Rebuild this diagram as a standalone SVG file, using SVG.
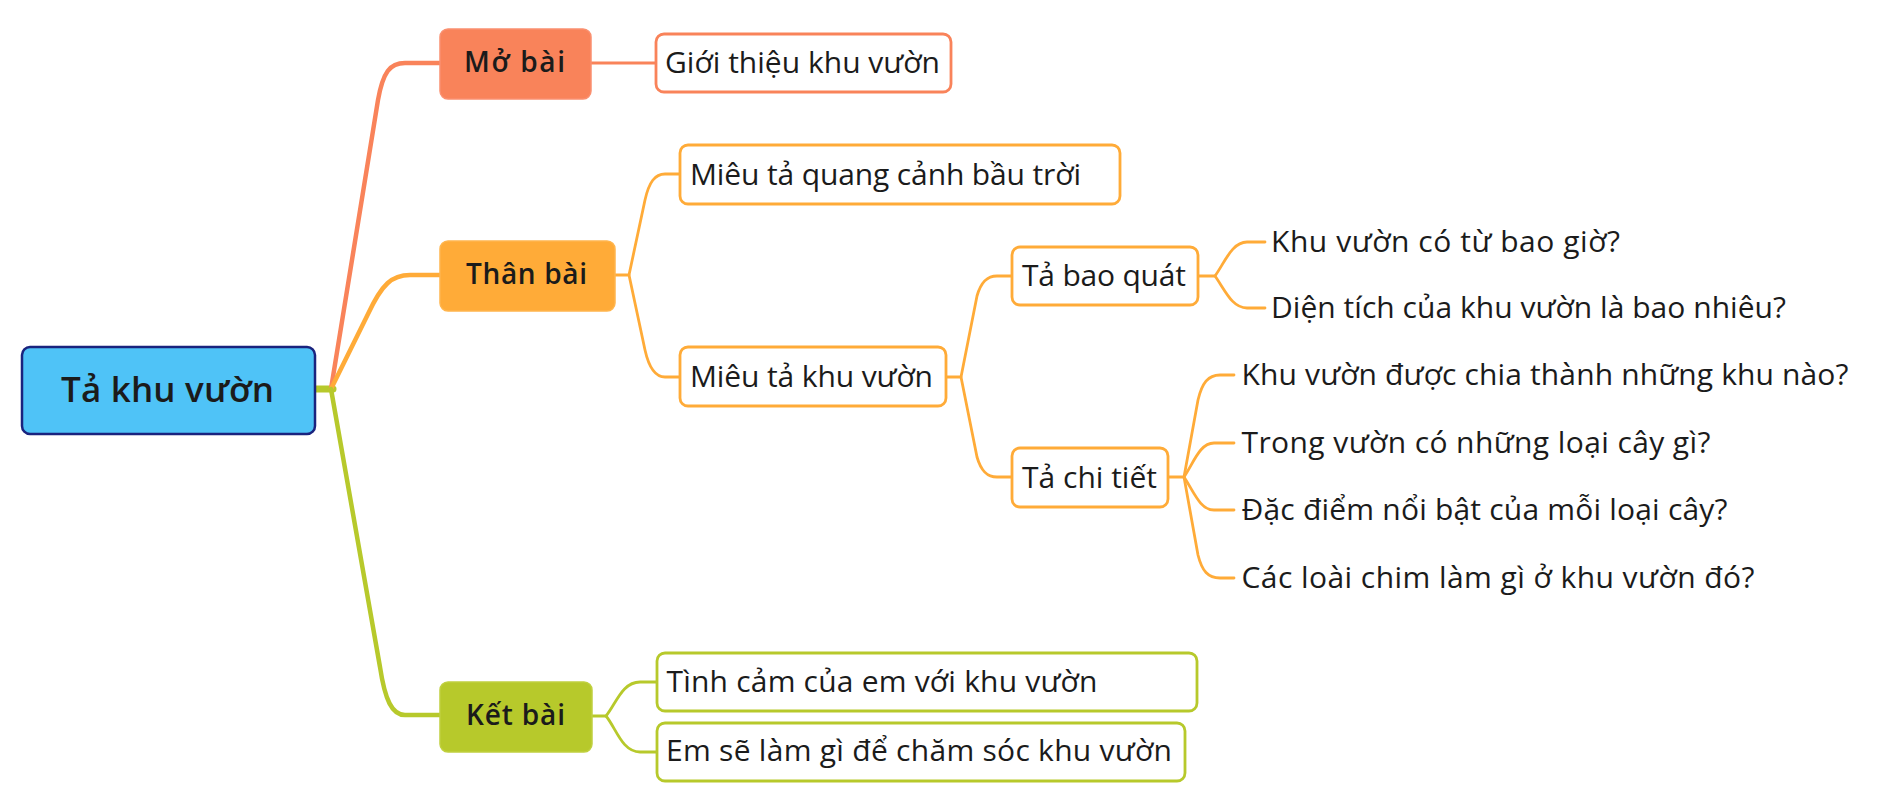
<svg xmlns="http://www.w3.org/2000/svg" width="1879" height="812" viewBox="0 0 1879 812">
<style>
.bg{fill:#ffffff}
.t{font-family:"Open Sans","Noto Sans","Liberation Sans",sans-serif;fill:#1b1b1b}
.reg{font-size:30px;font-weight:400}
.main{font-size:28px;font-weight:600}
.root{font-size:35px;font-weight:600}
.c{fill:none;stroke-linecap:round;stroke-linejoin:round}
.o1{stroke:#F9835A}
.o2{stroke:#FFAB38}
.g{stroke:#B7C92B}
.thick{stroke-width:4.5}
.thin{stroke-width:2.8}
.box{fill:#ffffff;stroke-width:2.8}
</style>
<rect class="bg" x="0" y="0" width="1879" height="812"/>
<g id="connectors">
  <path class="c g" stroke-width="7" d="M315,389 H333"/>
  <path class="c o1 thick" d="M331,389 L378,100 C383,72 390,63 405,63 H440"/>
  <path class="c o2 thick" d="M331,389 L368,314 C382,284 392,275 410,275 H440"/>
  <path class="c g thick" d="M331,389 L380,667 C385,700 392,715 405,715 H440"/>
  <path class="c o1 thin" d="M591,63 H656"/>
  <path class="c o2 thin" d="M615,275 H629 L645,200 C649,182 655,174 665,174 H680"/>
  <path class="c o2 thin" d="M629,275 L645,350 C649,368 655,377 665,377 H680"/>
  <path class="c o2 thin" d="M946,377 H961 L977,296 C981,282 987,276 997,276 H1012"/>
  <path class="c o2 thin" d="M961,377 L977,457 C981,471 987,477 997,477 H1012"/>
  <path class="c o2 thin" d="M1198,276 H1215 C1225,262 1232,242 1247,242 H1265"/>
  <path class="c o2 thin" d="M1215,276 C1225,290 1232,308 1247,308 H1265"/>
  <path class="c o2 thin" d="M1168,477 H1184 L1198,400 C1202,383 1208,375 1220,375 H1234"/>
  <path class="c o2 thin" d="M1184,477 C1194,462 1200,443 1214,443 H1234"/>
  <path class="c o2 thin" d="M1184,477 C1194,492 1200,510 1214,510 H1234"/>
  <path class="c o2 thin" d="M1184,477 L1198,555 C1202,571 1208,578 1220,578 H1234"/>
  <path class="c g thin" d="M592,716 H606 C616,704 622,682 640,682 H657"/>
  <path class="c g thin" d="M606,716 C616,728 622,752 640,752 H657"/>
</g>
<g id="root">
  <rect x="22" y="347" width="293" height="87" rx="8" fill="#4FC3F7" stroke="#1A237E" stroke-width="2.5"/>
  <text class="t root" x="61" y="402" textLength="213">Tả khu vườn</text>
</g>
<g id="mo-bai">
  <rect x="440" y="29" width="151" height="70" rx="8" fill="#F9835A" stroke="#FA9070" stroke-width="1.5"/>
  <text class="t main" x="464" y="72" textLength="101">Mở bài</text>
</g>
<g id="than-bai">
  <rect x="440" y="241" width="175" height="70" rx="8" fill="#FFAB38" stroke="#FFB54D" stroke-width="1.5"/>
  <text class="t main" x="466" y="284" textLength="121">Thân bài</text>
</g>
<g id="ket-bai">
  <rect x="440" y="682" width="152" height="70" rx="8" fill="#B7C92B" stroke="#C0D03F" stroke-width="1.5"/>
  <text class="t main" x="466" y="725" textLength="99">Kết bài</text>
</g>
<g id="gioi-thieu">
  <rect class="box o1" x="656" y="34" width="295" height="58" rx="8"/>
  <text class="t reg" x="665" y="73" textLength="275">Giới thiệu khu vườn</text>
</g>
<g id="quang-canh">
  <rect class="box o2" x="680" y="145" width="440" height="59" rx="8"/>
  <text class="t reg" x="690" y="184.5" textLength="391">Miêu tả quang cảnh bầu trời</text>
</g>
<g id="mieu-ta-khu-vuon">
  <rect class="box o2" x="680" y="347" width="266" height="59" rx="8"/>
  <text class="t reg" x="690" y="386.5" textLength="243">Miêu tả khu vườn</text>
</g>
<g id="ta-bao-quat">
  <rect class="box o2" x="1012" y="247" width="186" height="58" rx="8"/>
  <text class="t reg" x="1022" y="286" textLength="164">Tả bao quát</text>
</g>
<g id="ta-chi-tiet">
  <rect class="box o2" x="1012" y="448" width="156" height="59" rx="8"/>
  <text class="t reg" x="1022" y="487.5" textLength="135">Tả chi tiết</text>
</g>
<g id="co-tu-bao-gio">
  <text class="t reg" x="1271" y="252" textLength="349">Khu vườn có từ bao giờ?</text>
</g>
<g id="dien-tich">
  <text class="t reg" x="1271" y="318" textLength="515">Diện tích của khu vườn là bao nhiêu?</text>
</g>
<g id="chia-khu">
  <text class="t reg" x="1241.5" y="385" textLength="607">Khu vườn được chia thành những khu nào?</text>
</g>
<g id="loai-cay">
  <text class="t reg" x="1241.5" y="453" textLength="469">Trong vườn có những loại cây gì?</text>
</g>
<g id="dac-diem">
  <text class="t reg" x="1241.5" y="520" textLength="486">Đặc điểm nổi bật của mỗi loại cây?</text>
</g>
<g id="loai-chim">
  <text class="t reg" x="1241.5" y="588" textLength="513">Các loài chim làm gì ở khu vườn đó?</text>
</g>
<g id="tinh-cam">
  <rect class="box g" x="657" y="653" width="540" height="58" rx="8"/>
  <text class="t reg" x="666.5" y="692" textLength="431">Tình cảm của em với khu vườn</text>
</g>
<g id="cham-soc">
  <rect class="box g" x="657" y="723" width="528" height="58" rx="8"/>
  <text class="t reg" x="666" y="761" textLength="506">Em sẽ làm gì để chăm sóc khu vườn</text>
</g>
</svg>
